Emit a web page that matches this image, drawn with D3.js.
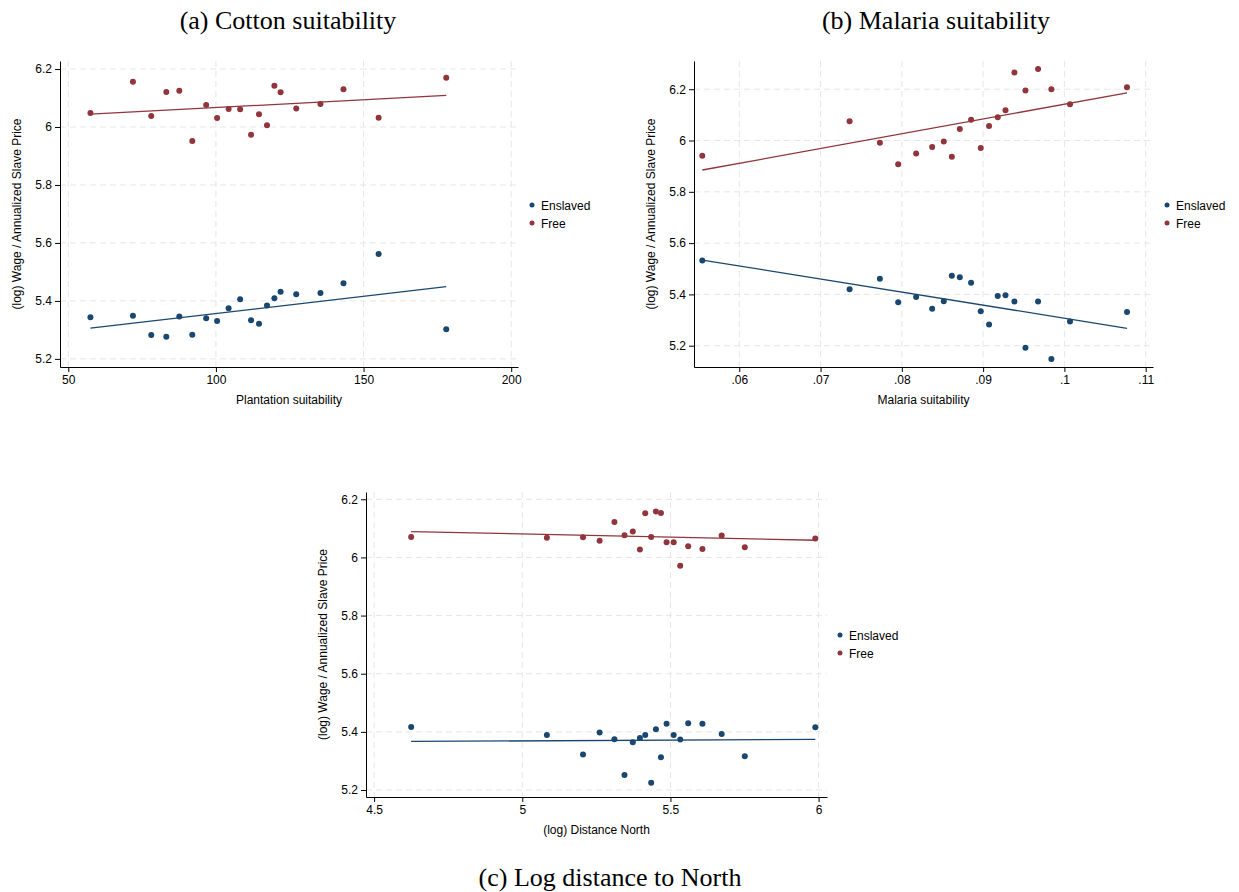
<!DOCTYPE html>
<html>
<head>
<meta charset="utf-8">
<script src="https://cdn.jsdelivr.net/npm/d3@7"></script>
<style>
  body { margin: 0; background: #fff; }
  svg text { font-family: "Liberation Sans", Arial, sans-serif; fill: #000; }
  .title { font-family: "Liberation Serif", "DejaVu Serif", serif; font-size: 26px; }
  .grid line { stroke: #e6e6e6; stroke-dasharray: 6 4; stroke-width: 1; }
  .axis path, .axis line { stroke: #000; }
  .axis text { font-size: 12px; }
</style>
</head>
<body>
<svg width="1239" height="892"></svg>
<script>
// (a) cotton suitability
const cottonX = [57.5, 71.9, 78.1, 83.2, 87.6, 92.0, 96.7, 100.4, 104.3, 108.2, 111.9, 114.6, 117.3, 119.8, 121.9, 127.2, 135.4, 143.2, 155.1, 178.0];
const cottonFree = [6.048, 6.156, 6.038, 6.121, 6.125, 5.952, 6.076, 6.031, 6.062, 6.061, 5.973, 6.044, 6.006, 6.142, 6.120, 6.064, 6.079, 6.130, 6.032, 6.170];
const cottonEnslaved = [5.344, 5.349, 5.282, 5.276, 5.346, 5.283, 5.340, 5.331, 5.375, 5.406, 5.333, 5.321, 5.384, 5.409, 5.432, 5.423, 5.427, 5.461, 5.562, 5.302];
const cottonFitFree = [6.044, 6.109];
const cottonFitEnslaved = [5.306, 5.449];

// (b) malaria suitability
const malariaX = [0.05545, 0.07357, 0.07730, 0.07955, 0.08176, 0.08373, 0.08516, 0.08615, 0.08713, 0.08852, 0.08971, 0.09073, 0.09180, 0.09275, 0.09385, 0.09521, 0.09676, 0.09840, 0.10069, 0.10770];
const malariaFree = [5.941, 6.075, 5.991, 5.907, 5.949, 5.975, 5.996, 5.937, 6.045, 6.081, 5.971, 6.057, 6.091, 6.118, 6.265, 6.195, 6.279, 6.200, 6.141, 6.208];
const malariaEnslaved = [5.532, 5.420, 5.461, 5.369, 5.390, 5.344, 5.373, 5.473, 5.467, 5.445, 5.334, 5.283, 5.394, 5.397, 5.372, 5.192, 5.372, 5.148, 5.294, 5.331];
const malariaFitFree = [5.885, 6.186];
const malariaFitEnslaved = [5.534, 5.268];

// (c) log distance to North
const distX = [4.625, 5.083, 5.205, 5.261, 5.311, 5.345, 5.373, 5.397, 5.415, 5.435, 5.451, 5.468, 5.487, 5.511, 5.533, 5.560, 5.608, 5.673, 5.751, 5.989];
const distFree = [6.070, 6.068, 6.069, 6.057, 6.122, 6.076, 6.089, 6.027, 6.152, 6.070, 6.158, 6.153, 6.052, 6.052, 5.971, 6.038, 6.029, 6.075, 6.035, 6.065];
const distEnslaved = [5.417, 5.389, 5.322, 5.398, 5.375, 5.252, 5.364, 5.379, 5.389, 5.225, 5.409, 5.313, 5.428, 5.389, 5.374, 5.430, 5.428, 5.393, 5.316, 5.416];
const distFitFree = [6.089, 6.059];
const distFitEnslaved = [5.367, 5.374];

// ticks
const yTicks = [5.2, 5.4, 5.6, 5.8, 6, 6.2];
const yTickLabels = ["5.2", "5.4", "5.6", "5.8", "6", "6.2"];
const cottonTicks = [50, 100, 150, 200];
const cottonTickLabels = ["50", "100", "150", "200"];
const malariaTicks = [0.06, 0.07, 0.08, 0.09, 0.1, 0.11];
const malariaTickLabels = [".06", ".07", ".08", ".09", ".1", ".11"];
const distTicks = [4.5, 5, 5.5, 6];
const distTickLabels = ["4.5", "5", "5.5", "6"];

const seriesNames = ["Enslaved", "Free"];
const colors = { Enslaved: "#1a476f", Free: "#90353b" };

const svg = d3.select("svg");

const panels = [
  { title: "(a) Cotton suitability", titleX: 288, titleY: 29, xLabel: "Plantation suitability",
    box: [60, 518, 61, 367], xDomain: [47.2, 202.3], yDomain: [5.172, 6.2276],
    x: cottonX, free: cottonFree, ens: cottonEnslaved, fitFree: cottonFitFree, fitEns: cottonFitEnslaved,
    xt: cottonTicks, xtl: cottonTickLabels, legend: [532, 205] },
  { title: "(b) Malaria suitability", titleX: 936, titleY: 29, xLabel: "Malaria suitability",
    box: [694, 1153, 61, 367], xDomain: [0.05443, 0.1109], yDomain: [5.117, 6.310],
    x: malariaX, free: malariaFree, ens: malariaEnslaved, fitFree: malariaFitFree, fitEns: malariaFitEnslaved,
    xt: malariaTicks, xtl: malariaTickLabels, legend: [1167, 205] },
  { title: "(c) Log distance to North", titleX: 610, titleY: 886, xLabel: "(log) Distance North",
    box: [366, 827, 492, 797], xDomain: [4.4726, 6.0284], yDomain: [5.176, 6.225],
    x: distX, free: distFree, ens: distEnslaved, fitFree: distFitFree, fitEns: distFitEnslaved,
    xt: distTicks, xtl: distTickLabels, legend: [840, 635] }
];

panels.forEach(drawPanel);

function drawPanel(p) {
  const [l, r, t, b] = p.box;
  const x = d3.scaleLinear().domain(p.xDomain).range([l, r]);
  const y = d3.scaleLinear().domain(p.yDomain).range([b, t]);
  const g = svg.append("g");

  // grid
  const grid = g.append("g").attr("class", "grid");
  grid.selectAll("line.h").data(yTicks).enter().append("line")
    .attr("x1", l).attr("x2", r).attr("y1", d => y(d)).attr("y2", d => y(d));
  grid.selectAll("line.v").data(p.xt).enter().append("line")
    .attr("y1", t).attr("y2", b).attr("x1", d => x(d)).attr("x2", d => x(d));

  // axes
  g.append("g").attr("class", "axis")
    .attr("transform", `translate(${l},0)`)
    .call(d3.axisLeft(y).tickValues(yTicks).tickSize(5).tickSizeOuter(0)
      .tickFormat((d, i) => yTickLabels[i]));
  g.append("g").attr("class", "axis")
    .attr("transform", `translate(0,${b})`)
    .call(d3.axisBottom(x).tickValues(p.xt).tickSize(5).tickSizeOuter(0)
      .tickFormat((d, i) => p.xtl[i]));

  // fit lines
  const xr = d3.extent(p.x);
  [[p.fitFree, colors.Free], [p.fitEns, colors.Enslaved]].forEach(([f, c]) => {
    g.append("line")
      .attr("x1", x(xr[0])).attr("x2", x(xr[1]))
      .attr("y1", y(f[0])).attr("y2", y(f[1]))
      .attr("stroke", c).attr("stroke-width", 1.3);
  });

  // points
  [[p.ens, colors.Enslaved], [p.free, colors.Free]].forEach(([vals, c]) => {
    g.selectAll(null).data(vals).enter().append("circle")
      .attr("cx", (d, i) => x(p.x[i])).attr("cy", d => y(d))
      .attr("r", 3).attr("fill", c);
  });

  // labels
  g.append("text").attr("class", "title")
    .attr("x", p.titleX).attr("y", p.titleY).attr("text-anchor", "middle").text(p.title);
  g.append("text").attr("x", (l + r) / 2).attr("y", b + 37)
    .attr("text-anchor", "middle").style("font-size", "12px").text(p.xLabel);
  g.append("text")
    .attr("transform", `translate(${l - 39},${(t + b) / 2}) rotate(-90)`)
    .attr("text-anchor", "middle").style("font-size", "12px")
    .text("(log) Wage / Annualized Slave Price");

  // legend
  const lg = g.append("g").attr("transform", `translate(${p.legend[0]},${p.legend[1]})`);
  seriesNames.forEach((s, i) => {
    lg.append("circle").attr("cx", 0).attr("cy", i * 18).attr("r", 2.5).attr("fill", colors[s]);
    lg.append("text").attr("x", 9).attr("y", i * 18 + 4.5).style("font-size", "12px").text(s);
  });
}
</script>
</body>
</html>
